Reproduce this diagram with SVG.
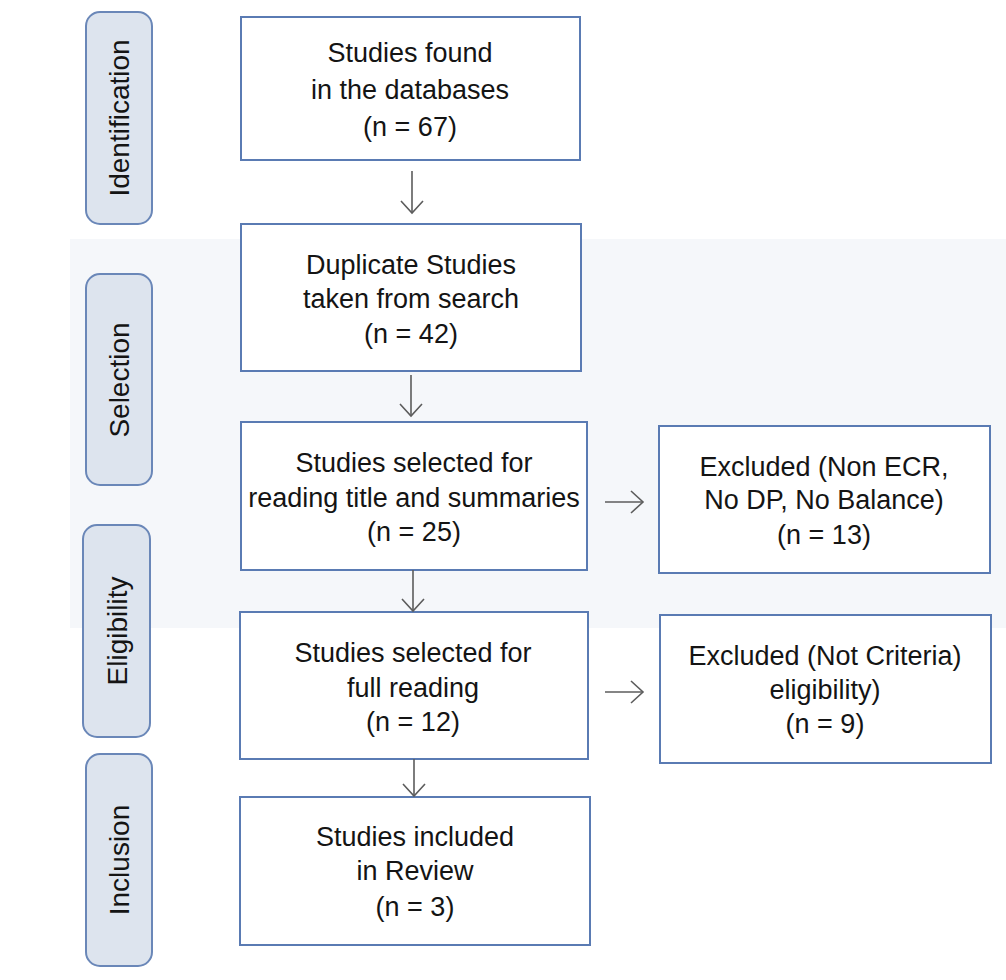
<svg xmlns="http://www.w3.org/2000/svg" width="1006" height="980" viewBox="0 0 1006 980">
<style>
.box{fill:#ffffff;stroke:#5a7bb3;stroke-width:2}
.pill{fill:#dde4ee;stroke:#6a87b8;stroke-width:2}
.t{font-family:"Liberation Sans",Arial,sans-serif;font-size:27px;fill:#141414;text-anchor:middle}
.p{font-family:"Liberation Sans",Arial,sans-serif;font-size:28px;fill:#141414;text-anchor:middle}
.c{fill:none;stroke:#5c5c5c;stroke-width:1.6}
</style>
<defs>
<marker id="ah" markerWidth="18" markerHeight="26" refX="14" refY="12" orient="auto" markerUnits="userSpaceOnUse">
<path d="M2,1 L14,12 L2,23" fill="none" stroke="#5c5c5c" stroke-width="1.6"/>
</marker>
</defs>
<rect x="0" y="0" width="1006" height="980" fill="#ffffff"/>
<rect x="70" y="239" width="936" height="389" fill="#f5f7fa"/>

<g id="stage-identification">
<rect class="pill" x="86" y="12" width="66" height="212" rx="14"/>
<text class="p" transform="translate(129,118) rotate(-90)">Identification</text>
</g>
<g id="stage-selection">
<rect class="pill" x="86" y="274" width="66" height="211" rx="14"/>
<text class="p" transform="translate(129,380) rotate(-90)">Selection</text>
</g>
<g id="stage-eligibility">
<rect class="pill" x="83" y="525" width="67" height="212" rx="14"/>
<text class="p" transform="translate(127,631) rotate(-90)">Eligibility</text>
</g>
<g id="stage-inclusion">
<rect class="pill" x="86" y="754" width="66" height="212" rx="14"/>
<text class="p" transform="translate(129,860) rotate(-90)">Inclusion</text>
</g>

<g id="n-found">
<rect class="box" x="241" y="17" width="339" height="143"/>
<text class="t" x="410" y="62">Studies found</text>
<text class="t" x="410" y="99">in the databases</text>
<text class="t" x="410" y="136">(n = 67)</text>
</g>
<g id="n-duplicate">
<rect class="box" x="241" y="224" width="340" height="147"/>
<text class="t" x="411" y="274">Duplicate Studies</text>
<text class="t" x="411" y="308">taken from search</text>
<text class="t" x="411" y="343">(n = 42)</text>
</g>
<g id="n-title">
<rect class="box" x="241" y="422" width="346" height="148"/>
<text class="t" x="414" y="472">Studies selected for</text>
<text class="t" x="414" y="507">reading title and summaries</text>
<text class="t" x="414" y="541">(n = 25)</text>
</g>
<g id="n-excl1">
<rect class="box" x="659" y="426" width="331" height="147"/>
<text class="t" x="824" y="476">Excluded (Non ECR,</text>
<text class="t" x="824" y="509">No DP, No Balance)</text>
<text class="t" x="824" y="544">(n = 13)</text>
</g>
<g id="n-full">
<rect class="box" x="240" y="612" width="348" height="147"/>
<text class="t" x="413" y="662">Studies selected for</text>
<text class="t" x="413" y="697">full reading</text>
<text class="t" x="413" y="731">(n = 12)</text>
</g>
<g id="n-excl2">
<rect class="box" x="660" y="615" width="331" height="148"/>
<text class="t" x="825" y="665">Excluded (Not Criteria)</text>
<text class="t" x="825" y="699">eligibility)</text>
<text class="t" x="825" y="733">(n = 9)</text>
</g>
<g id="n-included">
<rect class="box" x="240" y="797" width="350" height="148"/>
<text class="t" x="415" y="846">Studies included</text>
<text class="t" x="415" y="880">in Review</text>
<text class="t" x="415" y="916">(n = 3)</text>
</g>

<g id="connectors">
<line class="c" x1="412" y1="171" x2="412" y2="213" marker-end="url(#ah)"/>
<line class="c" x1="411" y1="375" x2="411" y2="416" marker-end="url(#ah)"/>
<line class="c" x1="413" y1="570" x2="413" y2="611" marker-end="url(#ah)"/>
<line class="c" x1="414" y1="759" x2="414" y2="796" marker-end="url(#ah)"/>
<line class="c" x1="605" y1="502" x2="643" y2="502" marker-end="url(#ah)"/>
<line class="c" x1="605" y1="692" x2="643" y2="692" marker-end="url(#ah)"/>
</g>
</svg>
